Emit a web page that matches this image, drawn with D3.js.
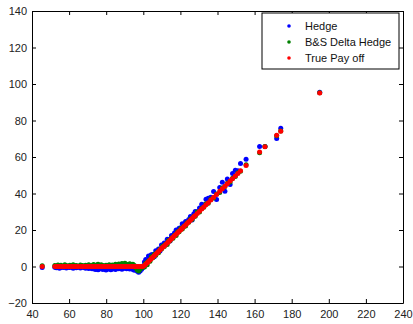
<!DOCTYPE html>
<html>
<head>
<meta charset="utf-8">
<script src="https://cdn.jsdelivr.net/npm/d3@7"></script>
<style>
  html, body { margin: 0; padding: 0; background: #fff; }
  #chart { width: 413px; height: 324px; }
</style>
</head>
<body>
<div id="chart"></div>
<script>
// stock price at expiry (x) for each simulated path
const spot = [
  45.5, 52.3, 53.1, 54.0, 54.8, 55.6, 56.9, 57.7, 58.5, 59.6,
  60.4, 61.3, 62.2, 63.0, 63.9, 64.8, 66.1, 67.0, 67.8, 68.9,
  69.7, 70.6, 71.5, 72.4, 73.2, 74.1, 74.9, 75.6, 76.4, 77.3,
  78.2, 79.0, 79.9, 80.7, 81.6, 82.5, 83.3, 84.2, 85.0, 85.9,
  86.8, 87.6, 88.5, 89.3, 90.1, 91.0, 91.8, 92.7, 93.5, 94.4,
  95.2, 96.0, 96.8, 97.5, 98.3, 99.1, 99.8,
  100.6, 101.3, 102.1, 102.8, 103.6, 104.3, 105.1, 105.9, 106.7, 107.4,
  108.2, 109.0, 109.8, 110.5, 111.3, 112.1, 112.9, 113.6, 114.4, 115.2,
  116.0, 116.8, 117.7, 118.5, 119.3, 120.2, 121.0, 121.9, 122.8, 123.6,
  124.5, 125.4, 126.3, 127.2, 128.0, 129.1, 130.3, 131.5, 132.6, 133.8,
  135.0, 136.4, 137.9, 139.5, 141.2, 142.6, 144.0, 145.3, 146.8, 148.1,
  149.6, 151.0, 152.4, 155.4, 162.7, 165.6, 171.9, 174.1, 195.1
];

const hedge = [
  -0.5, -0.4, -0.7, -0.3, -0.9, -0.5, -0.6, -0.2, -0.8, -0.4,
  -0.6, -0.3, -0.9, -0.5, -0.7, -0.4, -0.8, -0.3, -0.6, -0.9,
  -0.5, -1.1, -0.7, -1.3, -0.9, -1.6, -1.2, -1.8, -1.4, -1.0,
  -1.7, -1.3, -1.9, -1.5, -1.1, -1.8, -1.4, -1.0, -1.6, -0.8,
  -1.3, -0.9, -1.5, -1.1, -0.7, -1.2, -0.8, -1.4, -1.0, -1.6,
  -2.1, -1.7, -2.6, -3.2, -2.4, -1.5, -0.6,
  2.4, 3.8, 3.3, 5.7, 4.4, 6.5, 6.6, 5.3, 8.6, 8.1,
  9.6, 8.5, 11.8, 11.4, 12.9, 12.4, 15.0, 14.8, 14.0, 17.0,
  16.6, 18.3, 20.0, 18.9, 21.0, 21.2, 23.4, 22.7, 24.7, 24.1,
  25.8, 27.4, 25.5, 28.8, 30.2, 30.0, 32.1, 34.1, 33.7, 36.8,
  37.4, 37.9, 41.1, 36.7, 43.3, 46.1, 41.2, 48.0, 44.9, 50.9,
  52.7, 52.4, 56.4, 58.7, 65.7, 65.8, 70.1, 75.8, 95.5
];

const deltaHedge = [
  0.4, 0.6, 0.2, 0.8, 0.3, 0.7, 0.1, 0.9, 0.5, 0.2,
  0.7, 0.3, 0.9, 0.4, 0.6, 0.2, 0.8, 0.5, 0.3, 0.7,
  0.4, 0.9, 0.2, 0.6, 1.1, 0.5, 0.8, 1.3, 0.4, 0.9,
  0.6, 0.2, 0.7, 0.4, 1.0, 0.5, 0.8, 0.3, 1.2, 0.6,
  1.4, 0.9, 1.6, 1.1, 1.8, 1.3, 0.7, 1.5, 0.9, 1.2,
  0.6, -0.8, -1.9, -2.4, -1.5, -0.7, 0.3,
  -0.3, 1.9, 0.9, 3.2, 2.9, 5.3, 4.8, 6.7, 6.2, 7.7,
  7.6, 9.5, 9.6, 11.2, 10.9, 12.3, 12.1, 14.2, 14.1, 15.6,
  15.5, 17.1, 17.0, 19.0, 19.1, 20.8, 20.6, 22.1, 22.2, 24.0,
  24.2, 25.9, 25.7, 27.4, 27.6, 29.8, 29.8, 31.8, 32.4, 34.4,
  34.6, 36.9, 37.6, 39.7, 40.6, 43.0, 43.8, 45.6, 46.3, 48.3,
  49.3, 51.4, 52.2, 55.7, 62.3, 65.8, 71.6, 74.3, 95.2
];

const payoff = [
  0, 0, 0, 0, 0, 0, 0, 0, 0, 0,
  0, 0, 0, 0, 0, 0, 0, 0, 0, 0,
  0, 0, 0, 0, 0, 0, 0, 0, 0, 0,
  0, 0, 0, 0, 0, 0, 0, 0, 0, 0,
  0, 0, 0, 0, 0, 0, 0, 0, 0, 0,
  0, 0, 0, 0, 0, 0, 0,
  0.6, 1.3, 2.1, 2.8, 3.6, 4.3, 5.1, 5.9, 6.7, 7.4,
  8.2, 9.0, 9.8, 10.5, 11.3, 12.1, 12.9, 13.6, 14.4, 15.2,
  16.0, 16.8, 17.7, 18.5, 19.3, 20.2, 21.0, 21.9, 22.8, 23.6,
  24.5, 25.4, 26.3, 27.2, 28.0, 29.1, 30.3, 31.5, 32.6, 33.8,
  35.0, 36.4, 37.9, 39.5, 41.2, 42.6, 44.0, 45.3, 46.8, 48.1,
  49.6, 51.0, 52.4, 55.4, 62.7, 65.6, 71.9, 74.1, 95.1
];

const seriesNames = ['Hedge', 'B&S Delta Hedge', 'True Pay off'];
const seriesColors = ['#0000ff', '#008000', '#ff0000'];
const xTicks = [40, 60, 80, 100, 120, 140, 160, 180, 200, 220, 240];
const yTicks = [-20, 0, 20, 40, 60, 80, 100, 120, 140];

const width = 413, height = 324;
const margin = { top: 11, right: 10, bottom: 21, left: 32 };
const innerW = width - margin.left - margin.right;
const innerH = height - margin.top - margin.bottom;

const x = d3.scaleLinear().domain([40, 240]).range([0, innerW]);
const y = d3.scaleLinear().domain([-20, 140]).range([innerH, 0]);

const svg = d3.select('#chart').append('svg')
  .attr('width', width).attr('height', height)
  .style('display', 'block')
  .style('font-family', '"Liberation Sans", Arial, sans-serif');

const g = svg.append('g').attr('transform', `translate(${margin.left},${margin.top})`);

// scatter series, red drawn on top like the original
const series = [hedge, deltaHedge, payoff];
series.forEach((vals, k) => {
  g.append('g').selectAll('circle')
    .data(spot.map((s, i) => [s, vals[i]]))
    .join('circle')
    .attr('cx', (d) => x(d[0]))
    .attr('cy', (d) => y(d[1]))
    .attr('r', 2.5)
    .attr('fill', seriesColors[k]);
});

// axes with inward ticks on all four sides
const tickLen = 4;
const axisStyle = (sel) => {
  sel.selectAll('.domain').attr('stroke', '#000');
  sel.selectAll('.tick line').attr('stroke', '#000');
  sel.selectAll('.tick text').attr('fill', '#222').style('font-size', '11px');
};

g.append('g').attr('transform', `translate(0,${innerH})`)
  .call(d3.axisBottom(x).tickValues(xTicks).tickSizeInner(-tickLen).tickSizeOuter(0).tickPadding(7))
  .call(axisStyle);
g.append('g')
  .call(d3.axisTop(x).tickValues(xTicks).tickSizeInner(-tickLen).tickSizeOuter(0).tickFormat(''))
  .call(axisStyle);
g.append('g')
  .call(d3.axisLeft(y).tickValues(yTicks).tickSizeInner(-tickLen).tickSizeOuter(0).tickPadding(5))
  .call(axisStyle);
g.append('g').attr('transform', `translate(${innerW},0)`)
  .call(d3.axisRight(y).tickValues(yTicks).tickSizeInner(-tickLen).tickSizeOuter(0).tickFormat(''))
  .call(axisStyle);

// legend
const lg = svg.append('g').attr('transform', 'translate(262,13)');
lg.append('rect').attr('width', 137).attr('height', 56)
  .attr('fill', '#fff').attr('stroke', '#000').attr('stroke-width', 1);
seriesNames.forEach((name, i) => {
  const row = lg.append('g').attr('transform', `translate(0,${13 + i * 16})`);
  row.append('circle').attr('cx', 27).attr('cy', 0).attr('r', 1.8).attr('fill', seriesColors[i]);
  row.append('text').attr('x', 43).attr('y', 4)
    .style('font-size', '11px').attr('fill', '#111').text(name);
});
</script>
</body>
</html>
